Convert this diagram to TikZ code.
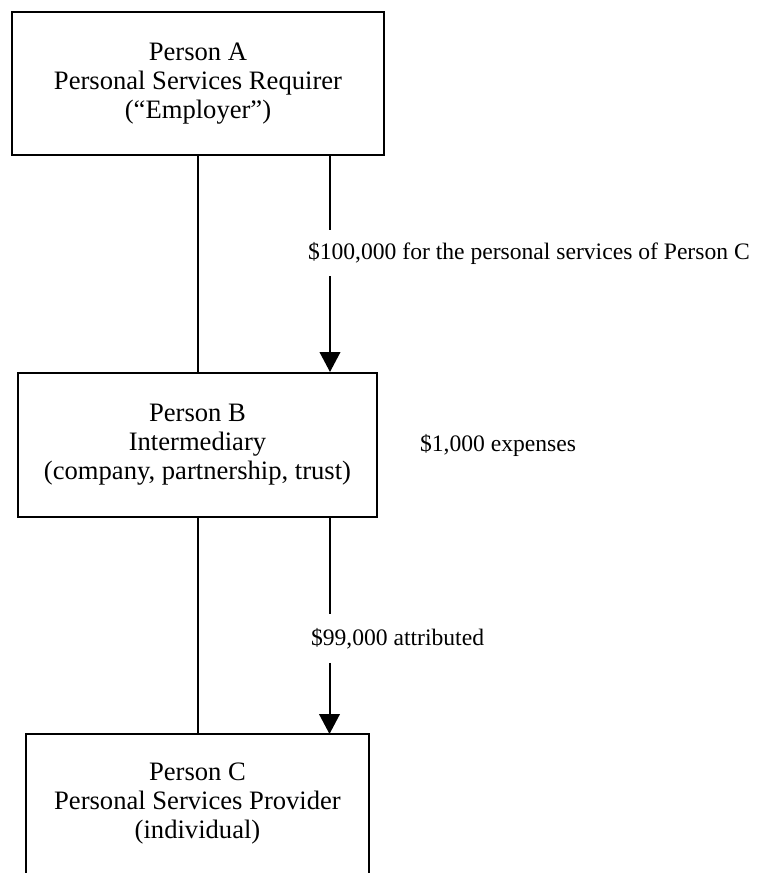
\documentclass[tikz,border=0pt]{standalone}
\usepackage{fontspec}
\setmainfont{Liberation Serif}
\usetikzlibrary{arrows.meta,positioning}

\begin{document}
\begin{tikzpicture}[x=0.5pt, y=-0.5pt, >={Triangle[length=10pt,width=10.3pt]}, line width=1pt,
	party/.style={draw, align=center, inner sep=0pt, font=\fontsize{13.3}{14.5}\selectfont},
	amount/.style={inner xsep=0pt, inner ysep=6pt, anchor=west, font=\fontsize{11.8}{14}\selectfont}]
	\useasboundingbox (0,0) rectangle (759,873);

	% Nodes {pa, pb, pc}
	\node [party, minimum width=186pt, minimum height=71.5pt]	(pa) at (198,83.5)	{Person A\\Personal Services Requirer\\(“Employer”)};
	\node [party, minimum width=179.5pt, minimum height=72pt]	(pb) at (197.5,445)	{Person B\\Intermediary\\(company, partnership, trust)};
	\node [party, draw=none, minimum width=170.5pt, minimum height=69pt]	(pc) at (197.5,804)	{Person C\\Personal Services Provider\\(individual)};
	\draw (pc.south west) -- (pc.north west) -- (pc.north east) -- (pc.south east);

	% Amounts
	\node [amount, inner ysep=5.5pt]	(pay)  at (307,253)		{\$100,000 for the personal services of Person C};
	\node [amount, inner ysep=0pt]		(cost) [right=20.5pt of pb]	{\$1,000 expenses};
	\node [amount, inner ysep=6.5pt]	(attr) at (310,638.5)	{\$99,000 attributed};

	% Paths
	\coordinate (ra) at ([xshift=66pt]pa.south);
	\coordinate (rb) at ([xshift=66pt]pb.south);
	\draw		(pa.south) -- (pa.south |- pb.north);
	\draw		(pb.south) -- (pb.south |- pc.north);
	\draw		(ra) -- (ra |- pay.north);
	\draw [->]	(ra |- pay.south) -- (ra |- pb.north);
	\draw		(rb) -- (rb |- attr.north);
	\draw [->]	(rb |- attr.south) -- (rb |- pc.north);
\end{tikzpicture}
\end{document}
